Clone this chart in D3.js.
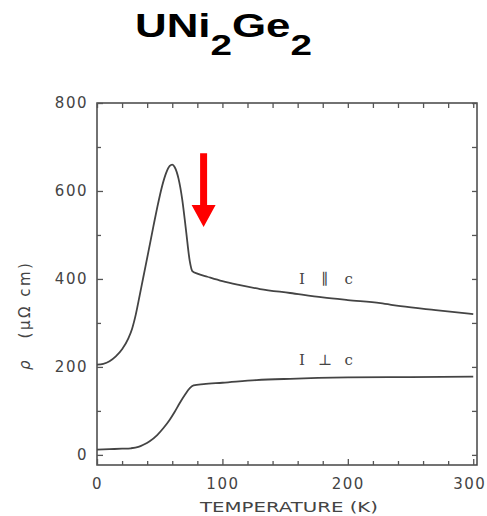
<!DOCTYPE html>
<html lang="en">
<head>
  <meta charset="UTF-8">
  <title>UNi2Ge2 resistivity</title>
  <style>
    body { margin: 0; background: #fff; }
    svg { display: block; }
    .tick text { font-family: "DejaVu Sans", sans-serif; font-size: 15px; fill: #444; letter-spacing: 1.5px; }
    .tick line { stroke: #555; stroke-width: 1.3; }
    .domain { display: none; }
    .curve { fill: none; stroke: #444; stroke-width: 1.8; }
  </style>
</head>
<body>
  <div id="chart"></div>
  <script src="https://d3js.org/d3.v7.min.js"></script>
  <script>
    // I || c
    const tempPar = [0, 5, 10, 15, 20, 25, 28, 31, 34, 37, 41, 45, 48, 52, 55, 58, 60, 62, 65, 68, 71, 74, 76, 80, 88, 100, 114, 130, 154, 180, 200, 226, 242, 270, 300];
    const rhoPar  = [205, 207, 213, 224, 240, 265, 287, 320, 362, 405, 462, 520, 562, 612, 640, 657, 660, 654, 628, 580, 510, 440, 418, 412, 405, 395, 386, 377, 368, 358, 352, 345, 338, 329, 320];

    // I perp c
    const tempPerp = [0, 10, 20, 27, 33, 37, 42, 48, 53, 58, 62, 66, 70, 74, 77, 85, 100, 127, 154, 200, 250, 300];
    const rhoPerp  = [12, 13, 14, 15, 18, 23, 31, 45, 61, 80, 98, 118, 136, 152, 158, 161, 164, 170, 173, 176, 177, 178];

    const xTicks = [0, 100, 200, 300];
    const yTicks = [0, 200, 400, 600, 800];

    const curveLabels = ['I \u2225 c', 'I \u22a5 c'];
    const labelT = [161, 161];
    const labelRho = [389, 205];

    // red arrow: temperature, top value, tip value
    const arrowT = 85, arrowTop = 686, arrowTip = 518;

    const width = 487, height = 516;
    const plot = { left: 97, right: 477, top: 103, bottom: 465 };

    const svg = d3.select('#chart').append('svg')
      .attr('width', width)
      .attr('height', height);

    const x = d3.scaleLinear().domain([0, 303]).range([plot.left, plot.right]);
    const y = d3.scaleLinear().domain([-23, 800]).range([plot.bottom, plot.top]);

    // title
    const title = svg.append('text')
      .attr('x', 135).attr('y', 37)
      .attr('textLength', 177)
      .attr('lengthAdjust', 'spacingAndGlyphs')
      .style('font-family', '"Liberation Sans", Arial, sans-serif')
      .style('font-weight', 'bold')
      .style('font-size', '34px')
      .style('fill', '#000');
    title.append('tspan').text('UNi');
    title.append('tspan').attr('dy', 18).style('font-size', '30px').text('2');
    title.append('tspan').attr('dy', -18).text('Ge');
    title.append('tspan').attr('dy', 18).style('font-size', '30px').text('2');

    // frame
    svg.append('rect')
      .attr('x', plot.left).attr('y', plot.top)
      .attr('width', plot.right - plot.left)
      .attr('height', plot.bottom - plot.top)
      .attr('fill', 'none')
      .attr('stroke', '#444')
      .attr('stroke-width', 1.5);

    const xMinor = d3.range(20, 300, 20).filter(v => v % 100 !== 0);
    const yMinor = [100, 300, 500, 700];

    // bottom axis
    svg.append('g')
      .attr('transform', `translate(0,${plot.bottom})`)
      .call(d3.axisBottom(x).tickValues(xTicks).tickSizeInner(-6).tickPadding(13).tickFormat(d3.format('d')));
    svg.append('g')
      .attr('transform', `translate(0,${plot.bottom})`)
      .call(d3.axisBottom(x).tickValues(xMinor).tickSizeInner(-4).tickFormat(''));
    // top axis
    svg.append('g')
      .attr('transform', `translate(0,${plot.top})`)
      .call(d3.axisTop(x).tickValues(xMinor.concat(xTicks)).tickSizeInner(-5).tickFormat(''));

    // left axis
    svg.append('g')
      .attr('transform', `translate(${plot.left},0)`)
      .call(d3.axisLeft(y).tickValues(yTicks).tickSizeInner(-6).tickPadding(9).tickFormat(d3.format('d')));
    svg.append('g')
      .attr('transform', `translate(${plot.left},0)`)
      .call(d3.axisLeft(y).tickValues(yMinor).tickSizeInner(-4).tickFormat(''));
    // right axis
    svg.append('g')
      .attr('transform', `translate(${plot.right},0)`)
      .call(d3.axisRight(y).tickValues(yMinor.concat(yTicks)).tickSizeInner(-5).tickFormat(''));

    // last x label sits against the right edge
    svg.selectAll('.tick text').filter(d => d === 300).attr('dx', -4);

    // axis titles
    svg.append('text')
      .attr('x', 200).attr('y', 512)
      .attr('textLength', 178)
      .attr('lengthAdjust', 'spacingAndGlyphs')
      .style('font-family', '"DejaVu Sans", sans-serif')
      .style('font-size', '14px')
      .style('fill', '#444')
      .text('TEMPERATURE (K)');

    const yLab = svg.append('text')
      .attr('transform', 'translate(30,370) rotate(-90)')
      .style('font-family', '"DejaVu Sans", sans-serif')
      .style('font-size', '15px')
      .style('fill', '#444');
    yLab.append('tspan').style('font-style', 'italic').text('\u03c1');
    yLab.append('tspan').attr('dx', 22).style('letter-spacing', '2.5px').text('(\u03bc\u03a9 cm)');

    // curves
    const line = d3.line()
      .x(d => x(d[0]))
      .y(d => y(d[1]))
      .curve(d3.curveMonotoneX);

    svg.append('path')
      .attr('class', 'curve')
      .attr('d', line(d3.zip(tempPar, rhoPar)));
    svg.append('path')
      .attr('class', 'curve')
      .attr('d', line(d3.zip(tempPerp, rhoPerp)));

    svg.selectAll('.clabel')
      .data(curveLabels)
      .enter()
      .append('text')
      .attr('class', 'clabel')
      .attr('x', (d, i) => x(labelT[i]))
      .attr('y', (d, i) => y(labelRho[i]))
      .attr('textLength', 54)
      .attr('lengthAdjust', 'spacing')
      .style('font-family', '"DejaVu Serif", serif')
      .style('font-size', '15px')
      .style('fill', '#444')
      .text(d => d);

    // red arrow
    const ax = x(arrowT), aTop = y(arrowTop), aTip = y(arrowTip);
    const headH = 22, headW = 12, shaftW = 3.5;
    svg.append('path')
      .attr('fill', '#ff0000')
      .attr('d', `M${ax - shaftW},${aTop} L${ax + shaftW},${aTop} L${ax + shaftW},${aTip - headH} L${ax + headW},${aTip - headH} L${ax},${aTip} L${ax - headW},${aTip - headH} L${ax - shaftW},${aTip - headH} Z`);
  </script>
</body>
</html>
